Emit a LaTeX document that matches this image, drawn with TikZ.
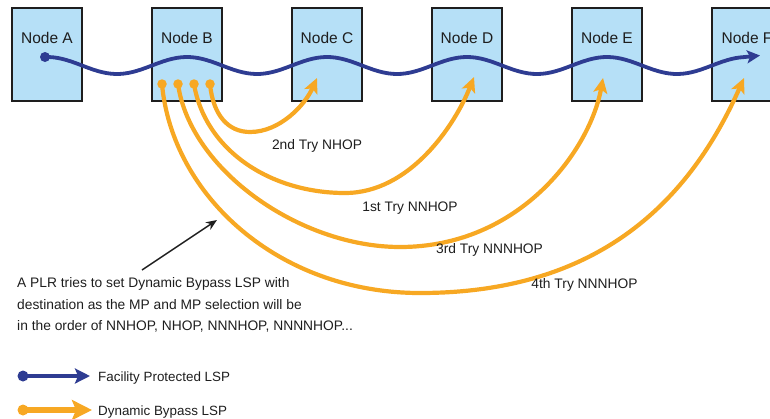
\documentclass[tikz,border=0pt]{standalone}
\usepackage{fontspec}
\setmainfont{Liberation Sans}
\usetikzlibrary{arrows.meta}
\definecolor{boxfill}{RGB}{182,224,247}
\definecolor{lspblue}{RGB}{46,60,146}
\definecolor{lsporange}{RGB}{247,168,35}
\definecolor{ink}{RGB}{30,30,30}
\begin{document}
\begin{tikzpicture}[x=1pt,y=-1pt,
  box/.style={draw=ink, line width=1.8pt, fill=boxfill, minimum width=70pt, minimum height=93pt, inner sep=0pt},
  nodelbl/.style={font=\fontsize{15.5}{18}\selectfont, text=ink, anchor=base, inner sep=0pt},
  txt/.style={font=\fontsize{13.8}{16}\selectfont, text=ink, inner sep=0pt},
  legtxt/.style={font=\fontsize{13.4}{16}\selectfont, text=ink, inner sep=0pt, anchor=base west},
  facility/.style={draw=lspblue, line width=3.8pt, line cap=round, -{Stealth[length=13pt,width=13pt,inset=3pt]}},
  bypass/.style={draw=lsporange, line width=4.2pt, line cap=round, -{Stealth[length=15pt,width=14pt,inset=3.5pt]}},
  bdot/.style={circle, fill=lspblue, inner sep=0pt, minimum size=10pt},
  odot/.style={circle, fill=lsporange, inner sep=0pt, minimum size=9.5pt},
  pointer/.style={draw=ink, line width=1.5pt, -{Stealth[length=11pt,width=9pt]}}
]
\useasboundingbox (0,0) rectangle (770,418);

% boxes
\foreach \n/\x in {A/47,B/187,C/327,D/467,E/607,F/747}{
  \node[box] (\n) at (\x,54.5) {};
  \node[nodelbl] (l\n) at (\x,43.3) {Node \n};
}

% facility protected LSP (wave)
\node[bdot] (a0) at (45,57) {};
\coordinate (fT) at (760,55.5);
\draw[facility] plot[domain=45:744,samples=160] (\x,{65.5-8.5*cos((\x-47)/140*360)}) -- (fT);

% dynamic bypass LSPs
\coordinate (tC) at (317,78);
\coordinate (tD) at (474,77);
\coordinate (tE) at (603,78);
\coordinate (tF) at (744,78);
\coordinate (b1) at (162,84);
\coordinate (b2) at (178,84);
\coordinate (b3) at (194,84);
\coordinate (b4) at (210,84);

\draw[bypass] (b4) .. controls (213,115) and (228,132) .. (250,132)
  .. controls (280,132) and (305,105) .. (tC);
\draw[bypass] (b3) .. controls (205,150) and (270,193) .. (345,193)
  .. controls (410,193) and (455,125) .. (tD);
\draw[bypass] (b2) .. controls (190,170) and (300,247) .. (400,247)
  .. controls (520,247) and (590,150) .. (tE);
\draw[bypass] (b1) .. controls (172,195) and (278,293) .. (420,293)
  .. controls (600,293) and (690,200) .. (tF);

\foreach \d in {b1,b2,b3,b4}{ \node[odot] (d\d) at (\d) {}; }

% try labels
\node[txt, anchor=base] (try2) at (317,149) {2nd Try NHOP};
\node[txt, anchor=base] (try1) at (410,211.7) {1st Try NNHOP};
\node[txt, anchor=base] (try3) at (489.5,253.5) {3rd Try NNNHOP};
\node[txt, anchor=base] (try4) at (584.5,288.3) {4th Try NNNHOP};

% explanation
\coordinate (pt) at (142,270);
\coordinate (ph) at (217,220);
\draw[pointer] (pt) -- (ph);
\node[txt, anchor=base west] (p1) at (17,287.3) {A PLR tries to set Dynamic Bypass LSP with};
\node[txt, anchor=base west] (p2) at (17,309.3) {destination as the MP and MP selection will be};
\node[txt, anchor=base west] (p3) at (17,330.7) {in the order of NNHOP, NHOP, NNNHOP, NNNNHOP...};

% legend
\node[bdot, minimum size=11pt] (kb) at (23,376) {};
\coordinate (kbT) at (90,376);
\draw[draw=lspblue, line width=4pt, -{Stealth[length=15pt,width=15pt,inset=3pt]}] (kb.center) -- (kbT);
\node[legtxt] (kbl) at (98,381.7) {Facility Protected LSP};
\node[odot, minimum size=11pt] (ko) at (23,410) {};
\coordinate (koT) at (92,410);
\draw[draw=lsporange, line width=5.5pt, -{Stealth[length=20pt,width=20pt,inset=4pt]}] (ko.center) -- (koT);
\node[legtxt] (kol) at (98,415) {Dynamic Bypass LSP};
\end{tikzpicture}
\end{document}
